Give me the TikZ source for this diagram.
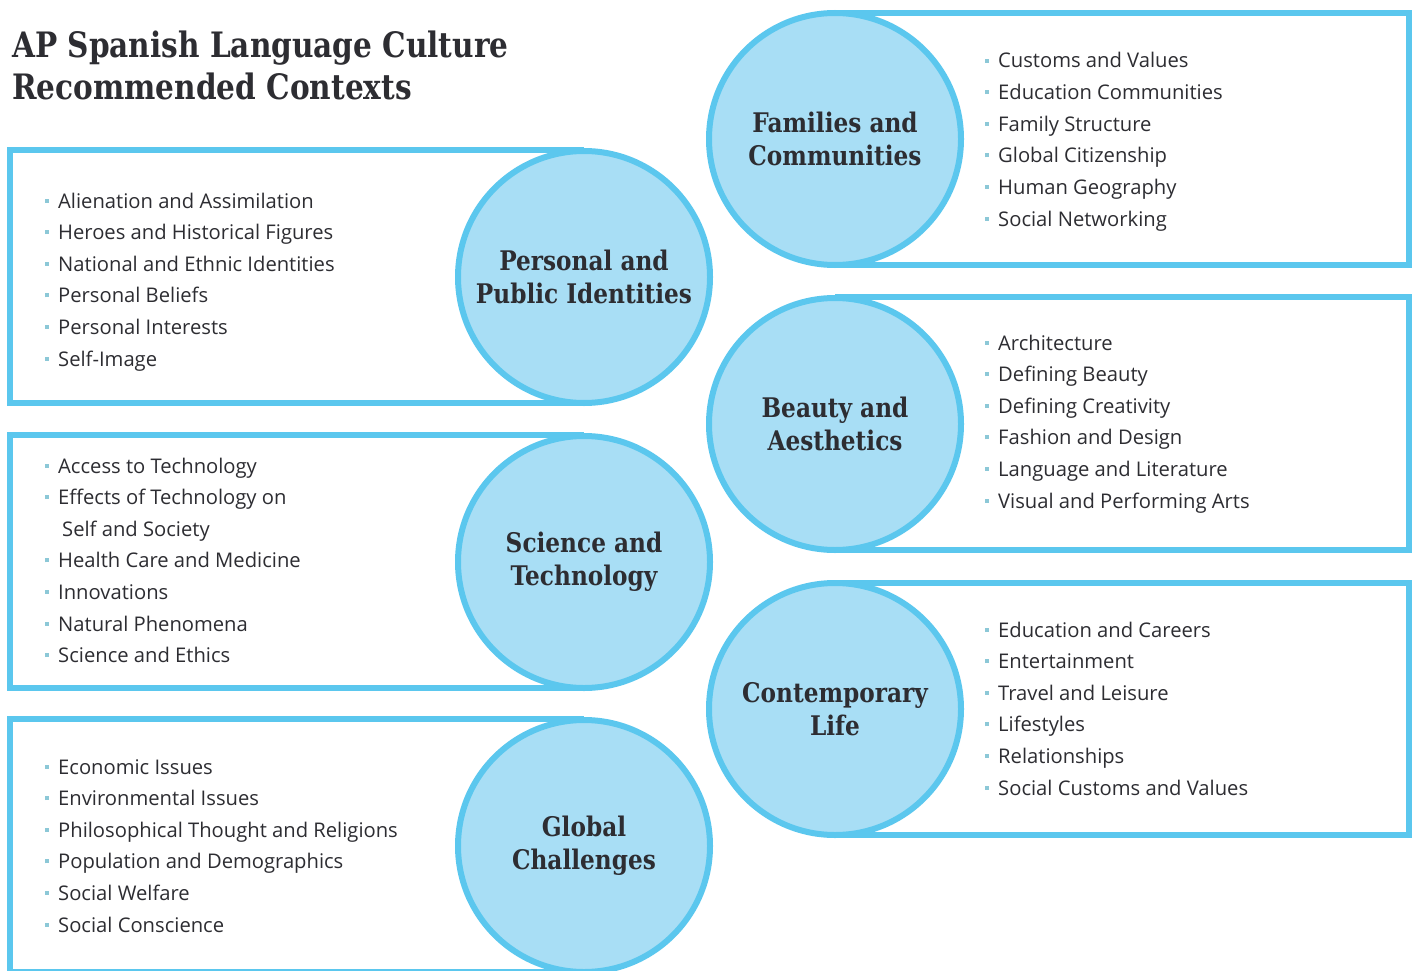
\documentclass[tikz,border=0pt]{standalone}
\usepackage{fontspec}
\setmainfont{Open Sans}
\newfontfamily\hdfont{DejaVu Serif}[FakeStretch=0.86]
\newfontfamily\ttlfont{DejaVu Serif}[FakeStretch=0.845]
\definecolor{bord}{RGB}{91,199,238}
\definecolor{circfill}{RGB}{168,222,245}
\definecolor{txt}{RGB}{45,45,50}
\definecolor{bulc}{RGB}{140,200,215}
\newcommand\bulsq{\textcolor{bulc}{\rule[0.27em]{4pt}{4pt}}\hspace{9pt}}
\begin{document}
\begin{tikzpicture}[x=1pt,y=-1pt,
 panel/.style={draw=bord, line width=6pt, line join=miter},
 topic/.style={circle, draw=bord, line width=6pt, fill=circfill, minimum size=252pt, inner sep=0pt, align=center, font=\hdfont\bfseries\fontsize{27}{33}\selectfont, text=txt},
 item/.style={anchor=base west, inner sep=0pt, font=\fontsize{20.2}{22}\selectfont, text=txt},
 ttl/.style={anchor=base west, inner sep=0pt, align=left, font=\ttlfont\bfseries\fontsize{35}{42}\selectfont, text=txt},
]
\useasboundingbox (0,0) rectangle (1416,971);
\fill[white] (0,0) rectangle (1416,971);

% title
\node[ttl] (t1) at (12,58) {AP Spanish Language Culture};
\node[ttl] (t2) at (12,100) {Recommended Contexts};

% left panels
\draw[panel] (584,150) -- (10,150) -- (10,403) -- (584,403);
\node[topic] (pers) at (584,277) {Personal and\\Public Identities};
\draw[panel] (584,435) -- (10,435) -- (10,688) -- (584,688);
\node[topic] (sci) at (584,562) {Science and\\Technology};
\draw[panel] (584,719) -- (10,719) -- (10,972) -- (584,972);
\node[topic] (glob) at (584,846) {Global\\Challenges};

% right panels
\draw[panel] (835,13) -- (1409,13) -- (1409,265) -- (835,265);
\node[topic] (fam) at (835,139) {Families and\\Communities};
\draw[panel] (835,297) -- (1409,297) -- (1409,550) -- (835,550);
\node[topic] (beau) at (835,424) {Beauty and\\Aesthetics};
\draw[panel] (835,583) -- (1409,583) -- (1409,835) -- (835,835);
\node[topic] (cont) at (835,709) {Contemporary\\Life};

% lists
\foreach \t [count=\i] in {Alienation and Assimilation, Heroes and Historical Figures, National and Ethnic Identities, Personal Beliefs, Personal Interests, Self-Image}
  \node[item] (pi\i) at (45,{208+31.6*(\i-1)}) {\bulsq\t};
\foreach \t [count=\i] in {Access to Technology, Effects of Technology on}
  \node[item] (si\i) at (45,{473+31.6*(\i-1)}) {\bulsq\t};
\node[item] (si2b) at (62,{473+31.6*2}) {Self and Society};
\foreach \t [count=\i] in {Health Care and Medicine, Innovations, Natural Phenomena, Science and Ethics}
  \node[item] (sj\i) at (45,{473+31.6*(\i+2)}) {\bulsq\t};
\foreach \t [count=\i] in {Economic Issues, Environmental Issues, Philosophical Thought and Religions, Population and Demographics, Social Welfare, Social Conscience}
  \node[item] (gi\i) at (45,{774+31.6*(\i-1)}) {\bulsq\t};
\foreach \t [count=\i] in {Customs and Values, Education Communities, Family Structure, Global Citizenship, Human Geography, Social Networking}
  \node[item] (fi\i) at (985,{68+31.6*(\i-1)}) {\bulsq\t};
\foreach \t [count=\i] in {Architecture, Defining Beauty, Defining Creativity, Fashion and Design, Language and Literature, Visual and Performing Arts}
  \node[item] (bi\i) at (985,{350+31.6*(\i-1)}) {\bulsq\t};
\foreach \t [count=\i] in {Education and Careers, Entertainment, Travel and Leisure, Lifestyles, Relationships, Social Customs and Values}
  \node[item] (ci\i) at (985,{637+31.6*(\i-1)}) {\bulsq\t};
\end{tikzpicture}
\end{document}
